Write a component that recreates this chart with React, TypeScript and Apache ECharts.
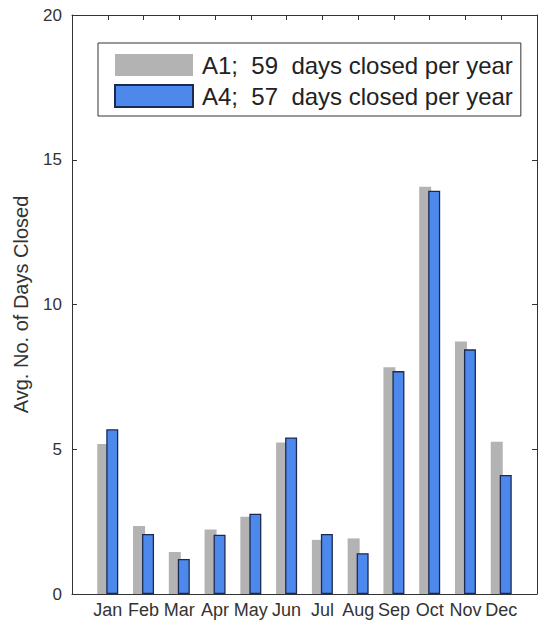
import React, { useEffect, useRef } from "react";
import * as echarts from "echarts";

// Monthly average number of closed days for two scenarios
const months = ["Jan", "Feb", "Mar", "Apr", "May", "Jun", "Jul", "Aug", "Sep", "Oct", "Nov", "Dec"];
const a1Days = [5.18, 2.35, 1.45, 2.23, 2.67, 5.23, 1.87, 1.92, 7.83, 14.07, 8.72, 5.26];
const a4Days = [5.69, 2.07, 1.21, 2.05, 2.77, 5.41, 2.07, 1.41, 7.7, 13.93, 8.45, 4.11];
const yTicks = [0, 5, 10, 15, 20];

const total = (arr: number[]) => Math.round(arr.reduce((s, v) => s + v, 0));
const a1Name = `A1;  ${total(a1Days)}  days closed per year`;
const a4Name = `A4;  ${total(a4Days)}  days closed per year`;

// pad the category axis so that the months sit at 1..12 on a 0..13 range
const xCats = ["", ...months, ""];
const pad = (arr: number[]) => ["-", ...arr, "-"];

const AXIS = "#333333";
const FONT = "Liberation Sans, Arial, Helvetica, sans-serif";

export default function App() {
  const ref = useRef<HTMLDivElement>(null);

  useEffect(() => {
    if (!ref.current) return;
    const chart = echarts.init(ref.current, undefined, { renderer: "svg" });
    const xBase = {
      type: "category" as const,
      data: xCats,
      boundaryGap: false,
      axisLine: { show: true, onZero: false, lineStyle: { color: AXIS, width: 1 } },
      axisTick: { show: true, inside: true, length: 5, lineStyle: { color: AXIS } },
      splitLine: { show: false },
    };
    const yBase = {
      type: "value" as const,
      min: yTicks[0],
      max: yTicks[yTicks.length - 1],
      interval: yTicks[1] - yTicks[0],
      axisLine: { show: true, lineStyle: { color: AXIS, width: 1 } },
      axisTick: { show: true, inside: true, length: 5, lineStyle: { color: AXIS } },
      splitLine: { show: false },
    };
    chart.setOption({
      animation: false,
      backgroundColor: "#ffffff",
      textStyle: { fontFamily: FONT },
      grid: { left: 72, right: -1, top: 15, bottom: 31, containLabel: false },
      legend: {
        orient: "vertical",
        left: 98,
        top: 43,
        itemWidth: 78,
        itemHeight: 22,
        itemGap: 7,
        padding: [10, 8, 8, 16],
        borderColor: "#333333",
        borderWidth: 1,
        backgroundColor: "#ffffff",
        icon: "rect",
        textStyle: { fontSize: 24, color: "#222222", fontFamily: FONT, padding: [0, 0, 0, 4] },
        data: [a1Name, a4Name],
      },
      xAxis: [
        {
          ...xBase,
          position: "bottom",
          axisLabel: { show: true, fontSize: 18, color: "#333333", margin: 7, interval: 0, fontFamily: FONT },
        },
        { ...xBase, position: "top", axisLabel: { show: false } },
      ],
      yAxis: [
        {
          ...yBase,
          position: "left",
          name: "Avg. No. of Days Closed",
          nameLocation: "middle",
          nameGap: 41,
          nameTextStyle: { fontSize: 20, color: "#333333", fontFamily: FONT },
          axisLabel: { show: true, fontSize: 17, color: "#333333", margin: 10, fontFamily: FONT },
        },
        { ...yBase, position: "right", axisLabel: { show: false } },
      ],
      series: [
        {
          name: a1Name,
          type: "bar",
          xAxisIndex: 0,
          yAxisIndex: 0,
          data: pad(a1Days),
          barWidth: 12,
          barGap: "-25%",
          itemStyle: { color: "#b3b3b3" },
        },
        {
          name: a4Name,
          type: "bar",
          xAxisIndex: 0,
          yAxisIndex: 0,
          data: pad(a4Days),
          barWidth: 12,
          barGap: "-25%",
          itemStyle: { color: "#4d88ec", borderColor: "#1c2a52", borderWidth: 1.3 },
        },
      ],
    });
    return () => chart.dispose();
  }, []);

  return (
    <div
      ref={ref}
      style={{ position: "fixed", left: 0, top: 0, width: 540, height: 625, background: "#ffffff" }}
    />
  );
}
